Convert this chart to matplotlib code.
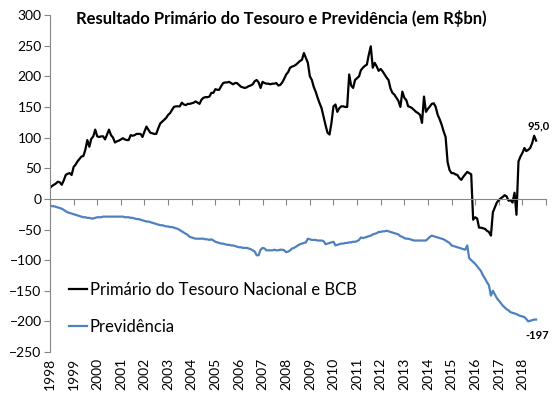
import numpy as np
import pandas as pd
import matplotlib
matplotlib.use("Agg")
import matplotlib.pyplot as plt

# monthly, Jan 1998 .. Aug 2018 (R$ bn, 12m accumulated)
primario = [
    18, 21, 23, 25, 28, 27, 23, 30, 39, 41, 42, 39,              # 1998
    52, 56, 61, 65, 69, 70, 80, 96, 85, 98, 102, 113,            # 1999
    102, 101, 102, 102, 97, 105, 113, 104, 100, 92, 94, 95,      # 2000
    97, 99, 97, 96, 96, 104, 103, 104, 106, 106, 106, 101,       # 2001
    110, 118, 113, 108, 107, 106, 106, 115, 123, 126, 129, 132,  # 2002
    137, 140, 145, 150, 151, 151, 151, 157, 154, 153, 155, 155,  # 2003
    156, 157, 159, 157, 155, 162, 165, 166, 166, 167, 173, 173,  # 2004
    179, 178, 178, 184, 189, 190, 190, 191, 189, 187, 189, 189,  # 2005
    186, 183, 182, 181, 182, 184, 185, 187, 192, 194, 190, 181,  # 2006
    191, 189, 188, 188, 187, 188, 188, 189, 185, 186, 190, 196,  # 2007
    203, 207, 214, 216, 217, 219, 222, 225, 227, 238, 230, 222,  # 2008
    200, 194, 183, 175, 165, 156, 148, 134, 120, 108, 105, 124,  # 2009
    151, 154, 142, 148, 151, 151, 150, 150, 203, 185, 181, 194,  # 2010
    197, 200, 210, 214, 217, 219, 235, 249, 214, 222, 216, 209,  # 2011
    212, 208, 203, 198, 194, 180, 173, 170, 165, 160, 150, 175,  # 2012
    165, 161, 151, 150, 148, 145, 142, 140, 137, 124, 167, 142,  # 2013
    147, 151, 155, 156, 150, 137, 130, 121, 110, 101, 60, 47,    # 2014
    42, 42, 40, 39, 34, 31, 36, 40, 44, 42, 40, -34,             # 2015
    -30, -32, -47, -47, -48, -49, -52, -54, -60, -22, -14, -6,   # 2016
    -2, 1, 3, 6, 4, -3, -2, -6, 10, -26, 61, 69,                 # 2017
    75, 83, 78, 80, 83, 91, 103, 95,                             # 2018
]

previdencia = [
    -11, -12, -12, -13, -14, -15, -16, -18, -20, -22, -23, -24,
    -25, -26, -27, -28, -29, -30, -30, -31, -31, -32, -32, -31,
    -30, -30, -30, -29, -29, -29, -29, -29, -29, -29, -29, -29,
    -29, -29, -30, -30, -30, -31, -31, -32, -33, -33, -34, -35,
    -36, -37, -37, -38, -39, -40, -41, -42, -43, -43, -44, -45,
    -45, -46, -46, -47, -48, -49, -51, -53, -55, -57, -59, -62,
    -63, -64, -65, -65, -65, -65, -65, -66, -66, -67, -66, -68,
    -70, -71, -72, -73, -73, -74, -75, -75, -76, -76, -77, -78,
    -79, -79, -80, -80, -80, -81, -82, -84, -86, -92, -92, -83,
    -80, -81, -84, -84, -84, -84, -83, -84, -84, -83, -83, -84,
    -87, -86, -84, -81, -80, -78, -76, -74, -73, -72, -71, -65,
    -66, -67, -67, -67, -68, -68, -68, -69, -74, -73, -72, -71,
    -70, -76, -75, -74, -73, -73, -72, -72, -71, -71, -70, -70,
    -69, -67, -63, -64, -63, -62, -61, -60, -58, -57, -56, -54,
    -54, -53, -53, -52, -53, -54, -55, -56, -57, -58, -61, -62,
    -64, -65, -65, -66, -67, -68, -68, -68, -68, -68, -68, -68,
    -65, -62, -60, -61, -62, -63, -64, -65, -66, -68, -70, -72,
    -76, -77, -78, -79, -80, -81, -82, -83, -76, -97, -100, -103,
    -106, -110, -114, -118, -125, -130, -136, -141, -158, -150, -156, -162,
    -166, -170, -174, -177, -180, -182, -185, -186, -187, -188, -190, -191,
    -192, -193, -196, -200, -199, -198, -197, -197,
]

years = list(range(1998, 2020))
year_labels = [str(y) for y in range(1998, 2019)]
label_primario = "Primário do Tesouro Nacional e BCB"
label_previdencia = "Previdência"
title = r"Resultado Primário do Tesouro e Previdência (em R\$bn)"

dates = pd.date_range("1998-01-01", periods=len(primario), freq="MS")

plt.rcParams["font.family"] = ["Lato", "DejaVu Sans"]
plt.rcParams["font.size"] = 10

fig = plt.figure(figsize=(5.57, 3.96), dpi=100)
ax = fig.add_axes([0.0898, 0.111, 0.8905, 0.851])

gray = "#868686"
blue = "#4F81BD"

ax.plot(dates, primario, color="black", lw=1.6, label=label_primario)
ax.plot(dates, previdencia, color=blue, lw=1.6, label=label_previdencia)

ax.set_ylim(-250, 300)
ax.set_yticks(range(-250, 301, 50))
tick_dates = [pd.Timestamp(f"{y}-01-01") for y in years]
ax.set_xlim(tick_dates[0], tick_dates[-1])

# x axis line with ticks sits at zero
ax.spines["bottom"].set_position(("data", 0))
ax.spines["bottom"].set_color(gray)
ax.spines["left"].set_color(gray)
ax.spines["top"].set_visible(False)
ax.spines["right"].set_visible(False)
ax.set_xticks(tick_dates)
ax.tick_params(axis="x", length=4, color=gray, labelbottom=False)
ax.tick_params(axis="y", length=4, color=gray, pad=2, labelsize=10)

# year labels at the bottom of the plot area
sec = ax.secondary_xaxis(0)
sec.set_xticks(tick_dates[:-1])
sec.set_xticklabels(year_labels, rotation=90)
sec.tick_params(length=0, pad=4, labelsize=10)
sec.spines["bottom"].set_visible(False)

ax.set_title(title, fontsize=12, fontweight="bold", x=0.466, y=0.95)

ax.legend(loc="upper left", bbox_to_anchor=(0.025, 0.228), frameon=False,
          fontsize=12, handlelength=1.1, handletextpad=0.15,
          labelspacing=1.25, borderaxespad=0)

ax.annotate(f"{primario[-1]:.1f}".replace(".", ","), (dates[-1], primario[-1]),
            xytext=(-6, 8), textcoords="offset points",
            fontsize=8, fontweight="bold")
ax.annotate(f"{previdencia[-1]}", (dates[-1], previdencia[-1]),
            xytext=(-8, -14), textcoords="offset points",
            fontsize=8, fontweight="bold")

fig.savefig("out.png", dpi=100)
